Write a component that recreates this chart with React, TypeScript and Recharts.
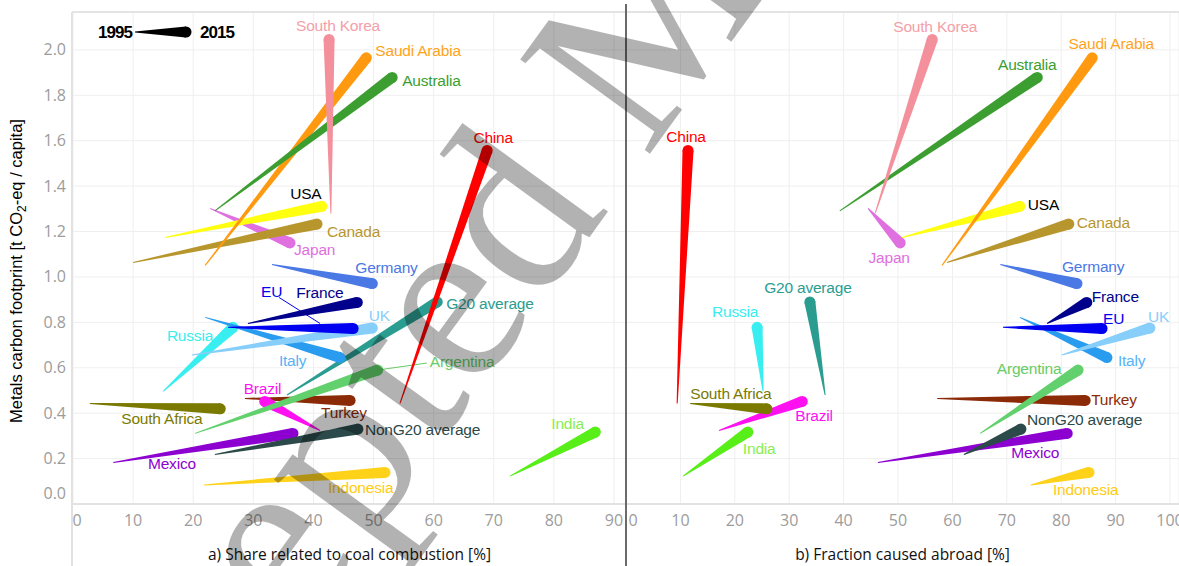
import React from 'react';
import { CartesianGrid, Line, LineChart, XAxis, YAxis } from 'recharts';

// Metals carbon footprint per capita, 1995 -> 2015, for G20 members and averages.
const countries = [
  'Indonesia', 'Mexico', 'NonG20 average', 'India', 'Turkey', 'Brazil', 'South Africa',
  'Argentina', 'G20 average', 'Russia', 'Italy', 'UK', 'EU', 'France', 'Germany',
  'Japan', 'Canada', 'USA', 'Saudi Arabia', 'Australia', 'China', 'South Korea',
];
const years = ['1995', '2015'];

// t CO2-eq / capita
const footprint1995 = [
  0.084, 0.183, 0.218, 0.123, 0.465, 0.324, 0.443,
  0.311, 0.48, 0.496, 0.822, 0.656, 0.778, 0.795, 1.055,
  1.302, 1.064, 1.174, 1.051, 1.291, 0.443, 1.28,
];
const footprint2015 = [
  0.139, 0.311, 0.33, 0.317, 0.456, 0.452, 0.419,
  0.59, 0.89, 0.778, 0.645, 0.775, 0.773, 0.888, 0.971,
  1.15, 1.233, 1.311, 1.965, 1.879, 1.557, 2.046,
];
// a) share related to coal combustion [%]
const coalShare1995 = [
  21.8, 6.7, 23.6, 72.7, 28.6, 41.1, 2.8,
  20.3, 35.6, 15.0, 22.0, 19.8, 25.8, 29.1, 33.1,
  22.8, 10.0, 15.3, 22.0, 23.6, 54.4, 42.9,
];
const coalShare2015 = [
  51.9, 36.6, 47.4, 86.9, 46.1, 31.9, 24.5,
  50.7, 60.6, 26.6, 44.4, 49.8, 46.6, 47.3, 49.8,
  36.1, 40.6, 41.4, 48.8, 53.1, 68.9, 42.6,
];
// b) fraction caused abroad [%]
const abroad1995 = [
  74.4, 46.3, 62.1, 10.5, 57.2, 17.1, 11.8,
  65.1, 36.6, 25.2, 72.4, 80.1, 69.3, 77.4, 68.8,
  44.5, 59.0, 50.7, 58.1, 39.3, 9.4, 45.8,
];
const abroad2015 = [
  85.1, 81.1, 72.6, 22.4, 84.4, 32.4, 25.9,
  83.1, 33.8, 24.1, 88.4, 96.3, 87.5, 84.7, 82.9,
  50.4, 81.4, 72.4, 85.7, 75.6, 11.4, 56.3,
];

const footprintTicks = [0, 0.2, 0.4, 0.6, 0.8, 1.0, 1.2, 1.4, 1.6, 1.8, 2.0];
const coalTicks = [0, 10, 20, 30, 40, 50, 60, 70, 80, 90];
const abroadTicks = [0, 10, 20, 30, 40, 50, 60, 70, 80, 90, 100];

const lineColor: Record<string, string> = {
  'South Korea': '#f4909c',
  'Saudi Arabia': '#ff9a10',
  Australia: '#3c9e30',
  China: '#ff0000',
  USA: '#ffff10',
  Canada: '#b8962e',
  Japan: '#e070e0',
  Germany: '#4a78e4',
  France: '#00008c',
  EU: '#0000f0',
  UK: '#87cefa',
  Italy: '#2a9cf0',
  Russia: '#38eef0',
  'G20 average': '#2a9d90',
  Argentina: '#62d06c',
  'South Africa': '#7a7a00',
  Brazil: '#ff10f0',
  Turkey: '#8b2a06',
  India: '#58ee18',
  'NonG20 average': '#2c4a4a',
  Mexico: '#8c00d0',
  Indonesia: '#ffd21a',
};
const labelColor: Record<string, string> = {
  ...lineColor,
  'South Korea': '#f4a0a8',
  'Saudi Arabia': '#ffa41c',
  USA: '#000000',
  Italy: '#58b2f6',
  India: '#88ee50',
  Argentina: '#66cc66',
  Indonesia: '#ffcc10',
};

type Place = { dx: number; dy: number; anchor: 'start' | 'middle' | 'end'; leader?: number[] };

const placeCoal: Record<string, Place> = {
  'South Korea': { dx: 9, dy: -14, anchor: 'middle' },
  'Saudi Arabia': { dx: 9, dy: -7, anchor: 'start' },
  Australia: { dx: 10, dy: 3, anchor: 'start' },
  China: { dx: 6, dy: -13, anchor: 'middle' },
  USA: { dx: -16, dy: -13, anchor: 'middle' },
  Canada: { dx: 10, dy: 7, anchor: 'start' },
  Japan: { dx: 4, dy: 7, anchor: 'start' },
  Germany: { dx: -17, dy: -16, anchor: 'start' },
  France: { dx: -61, dy: -10, anchor: 'start' },
  EU: { dx: -92, dy: -37, anchor: 'start', leader: [-74, -31, -33, -5] },
  UK: { dx: 7, dy: -13, anchor: 'middle' },
  Italy: { dx: -61, dy: 3, anchor: 'start' },
  Russia: { dx: -66, dy: 8, anchor: 'start' },
  'G20 average': { dx: 9, dy: 2, anchor: 'start' },
  Argentina: { dx: 52, dy: -9, anchor: 'start', leader: [0, 0, 49, -7] },
  Brazil: { dx: -21, dy: -13, anchor: 'start' },
  Turkey: { dx: -29, dy: 12, anchor: 'start' },
  'South Africa': { dx: -99, dy: 10, anchor: 'start' },
  Mexico: { dx: -145, dy: 30, anchor: 'start' },
  'NonG20 average': { dx: 7, dy: 0, anchor: 'start' },
  Indonesia: { dx: -57, dy: 15, anchor: 'start' },
  India: { dx: -44, dy: -9, anchor: 'start' },
};
const placeAbroad: Record<string, Place> = {
  China: { dx: -2, dy: -14, anchor: 'middle' },
  'South Korea': { dx: 3, dy: -13, anchor: 'middle' },
  Australia: { dx: -10, dy: -13, anchor: 'middle' },
  'Saudi Arabia': { dx: 19, dy: -14, anchor: 'middle' },
  USA: { dx: 8, dy: -2, anchor: 'start' },
  Japan: { dx: -11, dy: 15, anchor: 'middle' },
  Canada: { dx: 8, dy: -2, anchor: 'start' },
  Germany: { dx: -15, dy: -17, anchor: 'start' },
  France: { dx: 5, dy: -6, anchor: 'start' },
  EU: { dx: 1, dy: -10, anchor: 'start' },
  UK: { dx: -2, dy: -12, anchor: 'start' },
  Italy: { dx: 11, dy: 3, anchor: 'start' },
  'G20 average': { dx: -2, dy: -14, anchor: 'middle' },
  Russia: { dx: -22, dy: -16, anchor: 'middle' },
  Argentina: { dx: -49, dy: -2, anchor: 'middle' },
  'South Africa': { dx: -36, dy: -15, anchor: 'middle' },
  Brazil: { dx: -7, dy: 14, anchor: 'start' },
  Turkey: { dx: 6, dy: -1, anchor: 'start' },
  India: { dx: -5, dy: 16, anchor: 'start' },
  'NonG20 average': { dx: 6, dy: -10, anchor: 'start' },
  Mexico: { dx: -56, dy: 19, anchor: 'start' },
  Indonesia: { dx: -36, dy: 17, anchor: 'start' },
};

const Y_MAX = 2.167;
const LABEL_FONT = '"Liberation Sans", Arial, sans-serif';
const TICK_FONT = '"Open Sans", sans-serif';

// tapered segment: thin at the 1995 end, thick + round cap at the 2015 end
function taper(x0: number, y0: number, x1: number, y1: number, w0: number, w1: number) {
  const len = Math.hypot(x1 - x0, y1 - y0) || 1;
  const nx = -(y1 - y0) / len;
  const ny = (x1 - x0) / len;
  const p = [
    [x0 + (nx * w0) / 2, y0 + (ny * w0) / 2],
    [x1 + (nx * w1) / 2, y1 + (ny * w1) / 2],
    [x1 - (nx * w1) / 2, y1 - (ny * w1) / 2],
    [x0 - (nx * w0) / 2, y0 - (ny * w0) / 2],
  ];
  return p.map((q) => q.map((v) => v.toFixed(2)).join(',')).join(' ');
}

function makeDot(name: string, place: Place) {
  return (props: any) => {
    const { index, points } = props;
    if (index !== 1 || !points || points.length < 2) return <g key={`${name}-${index}`} />;
    const a = points[0];
    const b = points[1];
    const color = lineColor[name];
    return (
      <g key={`${name}-${index}`}>
        <polygon points={taper(a.x, a.y, b.x, b.y, 1, 11)} fill={color} />
        <circle cx={b.x} cy={b.y} r={5.5} fill={color} />
        {place.leader && (
          <line
            x1={b.x + place.leader[0]}
            y1={b.y + place.leader[1]}
            x2={b.x + place.leader[2]}
            y2={b.y + place.leader[3]}
            stroke={labelColor[name]}
            strokeWidth={1}
          />
        )}
        <text
          x={b.x + place.dx}
          y={b.y + place.dy}
          textAnchor={place.anchor}
          dominantBaseline="central"
          fill={labelColor[name]}
          fontSize={15.5}
          fontFamily={LABEL_FONT}
          letterSpacing={-0.2}
        >
          {name}
        </text>
      </g>
    );
  };
}

function Panel({
  title,
  from,
  to,
  ticks,
  xMax,
  width,
  showY,
  places,
  zeroShift,
}: {
  title: string;
  from: number[];
  to: number[];
  ticks: number[];
  xMax: number;
  width: number;
  showY: boolean;
  places: Record<string, Place>;
  zeroShift: number;
}) {
  const series = countries.map((name, i) => ({
    name,
    data: [
      { year: years[0], x: from[i], y: footprint1995[i] },
      { year: years[1], x: to[i], y: footprint2015[i] },
    ],
  }));
  return (
    <LineChart width={width} height={566} margin={{ top: 12, right: 0, bottom: 0, left: 0 }}>
      <CartesianGrid stroke="#efefef" strokeWidth={1} />
      <XAxis
        type="number"
        dataKey="x"
        domain={[0, xMax]}
        ticks={ticks}
        interval={0}
        height={62}
        tickSize={0}
        tickMargin={0}
        tickLine={false}
        axisLine={{ stroke: '#e2e2e2', strokeWidth: 2 }}
        tick={(p: any) => (
          <text
            x={p.x + (p.payload.value === 0 ? zeroShift : 0)}
            y={p.y + 22}
            textAnchor="middle"
            fill="#9c9c9c"
            fontSize={16}
            fontFamily={TICK_FONT}
          >
            {p.payload.value}
          </text>
        )}
        label={{
          value: title,
          position: 'insideBottom',
          offset: 6,
          fill: '#111',
          fontSize: 15.5,
          fontFamily: TICK_FONT,
        }}
      />
      <YAxis
        type="number"
        domain={[0, Y_MAX]}
        ticks={footprintTicks}
        hide={!showY}
        width={73}
        tickSize={0}
        tickMargin={0}
        tickLine={false}
        axisLine={false}
        tick={(p: any) => (
          <text
            x={p.x - 7}
            y={p.y + 5.5 - (p.payload.value === 0 ? 11 : 0)}
            textAnchor="end"
            fill="#9c9c9c"
            fontSize={16}
            fontFamily={TICK_FONT}
          >
            {Number(p.payload.value).toFixed(1)}
          </text>
        )}
      />
      {series.map((s) => (
        <Line
          key={s.name}
          data={s.data}
          dataKey="y"
          name={s.name}
          stroke="none"
          isAnimationActive={false}
          activeDot={false}
          legendType="none"
          dot={makeDot(s.name, places[s.name])}
        />
      ))}
    </LineChart>
  );
}

export default function App() {
  return (
    <div style={{ position: 'relative', width: 1179, height: 566, background: '#fff', overflow: 'hidden' }}>
      <style>{'body{margin:0}'}</style>
      <div style={{ position: 'absolute', left: 0, top: 0 }}>
        <Panel
          title="a) Share related to coal combustion [%]"
          from={coalShare1995}
          to={coalShare2015}
          ticks={coalTicks}
          xMax={92}
          width={626}
          showY
          places={placeCoal}
          zeroShift={4}
        />
      </div>
      <div style={{ position: 'absolute', left: 626, top: 0 }}>
        <Panel
          title="b) Fraction caused abroad [%]"
          from={abroad1995}
          to={abroad2015}
          ticks={abroadTicks}
          xMax={101.65}
          width={553}
          showY={false}
          places={placeAbroad}
          zeroShift={7}
        />
      </div>
      <svg
        width={1179}
        height={566}
        style={{ position: 'absolute', left: 0, top: 0, pointerEvents: 'none' }}
      >
        <line x1={72} y1={12} x2={1179} y2={12} stroke="#e4e4e4" strokeWidth={2} />
        <line x1={72} y1={12} x2={72} y2={566} stroke="#e2e2e2" strokeWidth={2} />
        <line x1={626} y1={4} x2={626} y2={566} stroke="#6a6a6a" strokeWidth={2} />
        <text
          x={115}
          y={38}
          textAnchor="middle"
          fontSize={17}
          fontWeight="bold"
          fontFamily={LABEL_FONT}
          letterSpacing={-1}
          fill="#000"
        >
          {years[0]}
        </text>
        <polygon points={taper(135, 32, 186, 32, 1, 11)} fill="#000" />
        <circle cx={186} cy={32} r={5.5} fill="#000" />
        <text
          x={217}
          y={38}
          textAnchor="middle"
          fontSize={17}
          fontWeight="bold"
          fontFamily={LABEL_FONT}
          letterSpacing={-1}
          fill="#000"
        >
          {years[1]}
        </text>
        <text
          transform="translate(22,271) rotate(-90)"
          textAnchor="middle"
          fontSize={16.5}
          fontFamily={LABEL_FONT}
          fill="#000"
        >
          Metals carbon footprint [t CO
          <tspan dy={4} fontSize={12}>
            2
          </tspan>
          <tspan dy={-4}>-eq / capita]</tspan>
        </text>
        <text
          x={41}
          y={939}
          transform="translate(-10 0) rotate(-3 410 280) rotate(-51 41 939)"
          fontSize={245}
          fontFamily='"Liberation Serif", "Times New Roman", serif'
          fill="#000"
          fillOpacity={0.3}
        >
          Accepted Manuscript
        </text>
      </svg>
    </div>
  );
}
